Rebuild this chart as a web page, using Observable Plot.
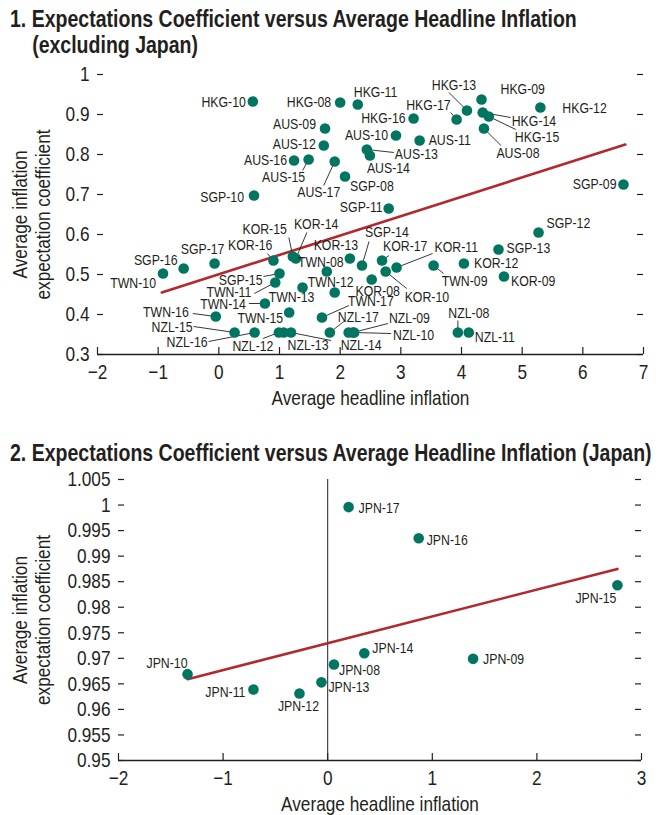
<!DOCTYPE html>
<html><head><meta charset="utf-8">
<script src="https://cdn.jsdelivr.net/npm/d3@7"></script>
<script src="https://cdn.jsdelivr.net/npm/@observablehq/plot@0.6"></script>
<style>
body{margin:0;background:#fff;}
#wrap{position:relative;width:661px;height:815px;overflow:hidden;font-family:"Liberation Sans Narrow","Arial Narrow","Liberation Sans",Arial,sans-serif;color:#231f20;}
.title{position:absolute;left:10px;font-weight:bold;font-size:23.8px;line-height:26px;white-space:nowrap;transform:scaleX(0.82);transform-origin:0 0;}
.panel{position:absolute;left:0;}
.panel svg{overflow:visible;}
</style></head><body>
<div id="wrap">
 <div class="title" style="top:6px">1. Expectations Coefficient versus Average Headline Inflation<br><span style="padding-left:27px">(excluding Japan)</span></div>
 <div class="panel" id="p1" style="top:60px"></div>
 <div class="title" style="top:440px">2. Expectations Coefficient versus Average Headline Inflation (Japan)</div>
 <div class="panel" id="p2" style="top:465px"></div>
</div>
<script>
// ---------- Panel 1 data (excluding Japan) ----------
const names1 = ["HKG-08","HKG-09","HKG-10","HKG-11","HKG-12","HKG-13","HKG-14","HKG-15","HKG-16","HKG-17",
  "AUS-08","AUS-09","AUS-10","AUS-11","AUS-12","AUS-13","AUS-14","AUS-15","AUS-16","AUS-17",
  "SGP-08","SGP-09","SGP-10","SGP-11","SGP-12","SGP-13","SGP-14","SGP-15","SGP-16","SGP-17",
  "KOR-08","KOR-09","KOR-10","KOR-11","KOR-12","KOR-13","KOR-14","KOR-15","KOR-16","KOR-17",
  "TWN-08","TWN-09","TWN-10","TWN-11","TWN-12","TWN-13","TWN-14","TWN-15","TWN-16","TWN-17",
  "NZL-08","NZL-09","NZL-10","NZL-11","NZL-12","NZL-13","NZL-14","NZL-15","NZL-16","NZL-17",""];
const inflation1 = [2.00,4.33,0.56,2.29,5.30,4.09,4.35,4.45,3.21,3.92,
  4.37,1.75,2.92,3.31,1.73,2.44,2.49,1.48,1.24,1.91,
  2.08,6.67,0.58,2.80,5.27,4.61,2.36,1.00,-0.58,-0.07,
  2.52,4.70,2.75,2.93,4.04,2.16,1.27,1.22,0.90,2.69,
  1.78,3.54,-0.92,0.93,1.91,1.38,0.76,1.16,-0.05,1.70,
  3.94,2.21,2.23,4.12,0.99,1.19,2.14,0.26,0.59,1.83,1.07];
const coef1 = [0.930,0.9375,0.9325,0.925,0.9175,0.910,0.905,0.895,0.890,0.8875,
  0.865,0.865,0.8475,0.835,0.8225,0.8125,0.7975,0.7875,0.785,0.7825,
  0.745,0.725,0.6975,0.665,0.605,0.5625,0.5225,0.5025,0.515,0.5275,
  0.4875,0.495,0.5075,0.5175,0.5275,0.540,0.540,0.545,0.535,0.535,
  0.5075,0.5225,0.5025,0.480,0.455,0.4675,0.4275,0.405,0.395,0.3925,
  0.355,0.355,0.355,0.355,0.355,0.355,0.355,0.355,0.355,0.355,0.355];
const fitX1 = [-0.94, 6.70];
const fitY1 = [0.455, 0.825];
const xTicks1 = [-2,-1,0,1,2,3,4,5,6,7];
const xTickLabels1 = ["\u22122","\u22121","0","1","2","3","4","5","6","7"];
const yTicks1 = [0.3,0.4,0.5,0.6,0.7,0.8,0.9,1];
const yTickLabels1 = ["0.3","0.4","0.5","0.6","0.7","0.8","0.9","1"];

// ---------- Panel 2 data (Japan) ----------
const names2 = ["JPN-08","JPN-09","JPN-10","JPN-11","JPN-12","JPN-13","JPN-14","JPN-15","JPN-16","JPN-17"];
const inflation2 = [0.06,1.39,-1.34,-0.71,-0.27,-0.06,0.35,2.77,0.87,0.20];
const coef2 = [0.9688,0.9699,0.9669,0.9639,0.9631,0.9653,0.9710,0.9843,0.9935,0.9996];
const fitX2 = [-1.34, 2.77];
const fitY2 = [0.9659, 0.9875];
const xTicks2 = [-2,-1,0,1,2,3];
const xTickLabels2 = ["\u22122","\u22121","0","1","2","3"];
const yTicks2 = [0.95,0.955,0.96,0.965,0.97,0.975,0.98,0.985,0.99,0.995,1,1.005];
const yTickLabels2 = ["0.95","0.955","0.96","0.965","0.97","0.975","0.98","0.985","0.99","0.995","1","1.005"];

// ---------- Label layout (pixel offsets from the dot) ----------
const layout1 = {
 "HKG-08":[-9,0,"end"],"HKG-09":[19,-10,"start"],"HKG-10":[-7,1,"end"],"HKG-11":[-4,-12,"start"],
 "HKG-12":[22,1,"start"],"HKG-13":[-13,-25,"middle"],"HKG-14":[29,9,"start"],"HKG-15":[26,21,"start"],
 "HKG-16":[-8,0,"end"],"HKG-17":[-6,-14,"end"],
 "AUS-08":[34,25,"middle"],"AUS-09":[-9,-4,"end"],"AUS-10":[-8,0,"end"],"AUS-11":[9,0,"start"],
 "AUS-12":[-8,-1,"end"],"AUS-13":[28,5,"start"],"AUS-14":[-3,13,"start"],"AUS-15":[-25,18,"middle"],
 "AUS-16":[-7,0,"end"],"AUS-17":[-16,31,"middle"],
 "SGP-08":[5,10,"start"],"SGP-09":[-7,0,"end"],"SGP-10":[-10,2,"end"],"SGP-11":[-6,-1,"end"],
 "SGP-12":[8,-9,"start"],"SGP-13":[8,-1,"start"],"SGP-14":[3,-33,"start"],"SGP-15":[-17,7,"end"],
 "SGP-16":[-6,-8,"end"],"SGP-17":[-12,-14,"middle"],
 "KOR-08":[6,12,"middle"],"KOR-09":[7,5,"start"],"KOR-10":[19,26,"start"],"KOR-11":[38,-20,"start"],
 "KOR-12":[10,0,"start"],"KOR-13":[-14,-13,"middle"],"KOR-14":[-2,-34,"start"],"KOR-15":[-6,-27,"end"],
 "KOR-16":[-1,-15,"end"],"KOR-17":[1,-14,"start"],
 "TWN-08":[-6,-9,"middle"],"TWN-09":[31,16,"middle"],"TWN-10":[-7,10,"end"],"TWN-11":[-24,10,"end"],
 "TWN-12":[-4,-10,"middle"],"TWN-13":[-11,10,"middle"],"TWN-14":[-19,1,"end"],"TWN-15":[-6,6,"end"],
 "TWN-16":[-27,-4,"end"],"TWN-17":[26,-16,"start"],
 "NZL-08":[11,-19,"middle"],"NZL-09":[36,-14,"start"],"NZL-10":[39,3,"start"],"NZL-11":[6,5,"start"],
 "NZL-12":[-26,14,"middle"],"NZL-13":[17,13,"middle"],"NZL-14":[-8,13,"start"],"NZL-15":[-42,-5,"end"],
 "NZL-16":[-47,10,"end"],"NZL-17":[8,-15,"start"]
};
const leaders1 = {
 "HKG-13":[-18,-18],"HKG-14":[28,5],"HKG-15":[27,13],"HKG-17":[-6,-7],"AUS-08":[17,17],
 "AUS-13":[27,3],"AUS-15":[-6,11],"AUS-17":[-11,24],"SGP-14":[7,-24],"SGP-15":[-16,3],
 "KOR-10":[21,17],"KOR-11":[36,-14],"KOR-14":[11,-26],"KOR-15":[-4,-19],"KOR-16":[-6,-7],"KOR-17":[7,-5],
 "TWN-09":[10,8],"TWN-11":[-21,11],"TWN-14":[-16,0],"TWN-16":[-23,-3],"TWN-17":[27,-12],
 "NZL-08":[0,-12],"NZL-09":[35,-9],"NZL-10":[37,1],"NZL-12":[-16,6],"NZL-13":[40,8],
 "NZL-15":[-41,-6],"NZL-16":[-46,9],"NZL-17":[14,-11]
};
const layout2 = {
 "JPN-08":[5,6,"start"],"JPN-09":[10,0,"start"],"JPN-10":[0,-11,"end"],"JPN-11":[-8,3,"end"],
 "JPN-12":[-1,13,"middle"],"JPN-13":[7,5,"start"],"JPN-14":[8,-5,"start"],"JPN-15":[-1,13,"end"],
 "JPN-16":[8,2,"start"],"JPN-17":[10,1,"start"]
};
const leaders2 = {};

const FONT = '"Liberation Sans Narrow","Arial Narrow","Liberation Sans",Arial,sans-serif';
const INK = "#231f20", TEAL = "#00755f", RED = "#b3282d";
const CONDENSE = 0.82;

function panel(o) {
  const width = 661;
  const [mt, mr, mb, ml] = o.margins;
  const kx = (o.xDomain[1]-o.xDomain[0])/(width-ml-mr);
  const ky = (o.yDomain[1]-o.yDomain[0])/(o.height-mt-mb);
  const ox = px => px*kx, oy = py => -py*ky;
  const pts = o.names.map((n,i)=>({name:n, x:o.xs[i], y:o.ys[i]}));
  const labeled = pts.filter(p=>p.name && o.layout[p.name]);
  const lab = a => labeled.filter(p=>o.layout[p.name][2]===a)
      .map(p=>({name:p.name, x:p.x+ox(o.layout[p.name][0]), y:p.y+oy(o.layout[p.name][1])}));
  const leads = labeled.filter(p=>o.leaders[p.name])
      .map(p=>({x1:p.x, y1:p.y, x2:p.x+ox(o.leaders[p.name][0]), y2:p.y+oy(o.leaders[p.name][1])}));
  const fit = o.fitX.map((x,i)=>({x, y:o.fitY[i]}));
  const xt = o.xTicks.map((v,i)=>({v, t:o.xLabels[i]}));
  const yt = o.yTicks.map((v,i)=>({v, t:o.yLabels[i]}));
  const y0 = o.yDomain[0], x0 = o.xDomain[0], x1 = o.xDomain[1];
  const ymid = (o.yDomain[0]+o.yDomain[1])/2;
  const xmid = (o.xDomain[0]+o.xDomain[1])/2;
  const marks = [
    Plot.ruleY([y0], {stroke: INK, strokeWidth: 1.4}),
    Plot.ruleX(o.xTicks, {y1: y0, y2: y0+ky*7, stroke: INK, strokeWidth: 1.2}),
    Plot.ruleY(o.yTicks, {x1: x0, x2: x0+kx*6, stroke: INK, strokeWidth: 1.2}),
    Plot.ruleY(o.yTicks, {x1: x1-kx*6, x2: x1, stroke: INK, strokeWidth: 1.2}),
    Plot.text(xt, {x: "v", y: y0, dy: 18, text: "t", fontSize: 21}),
    Plot.text(yt, {x: x0, y: "v", dx: -8, text: "t", textAnchor: "end", fontSize: 21}),
    Plot.text(["Average inflation"], {x: x0-kx*(ml-20), y: ymid, rotate: -90, fontSize: 21}),
    Plot.text(["expectation coefficient"], {x: x0-kx*(ml-43), y: ymid, rotate: -90, fontSize: 21}),
    Plot.text(["Average headline inflation"], {x: xmid, y: y0, dy: 44, fontSize: 21}),
  ];
  if (o.zeroLine) marks.push(Plot.ruleX([0], {stroke: INK, strokeWidth: 1}));
  marks.push(
    Plot.line(fit, {x: "x", y: "y", stroke: RED, strokeWidth: 2.6}),
    Plot.link(leads, {x1: "x1", y1: "y1", x2: "x2", y2: "y2", stroke: INK, strokeWidth: 0.9}),
    Plot.dot(pts, {x: "x", y: "y", r: 5.3, fill: TEAL, stroke: "none"}),
    Plot.text(lab("start"), {x: "x", y: "y", text: "name", textAnchor: "start", fontSize: o.labelSize}),
    Plot.text(lab("end"), {x: "x", y: "y", text: "name", textAnchor: "end", fontSize: o.labelSize}),
    Plot.text(lab("middle"), {x: "x", y: "y", text: "name", textAnchor: "middle", fontSize: o.labelSize})
  );
  return Plot.plot({
    width, height: o.height,
    marginTop: mt, marginRight: mr, marginBottom: mb, marginLeft: ml,
    x: {domain: o.xDomain, axis: null},
    y: {domain: o.yDomain, axis: null},
    style: {fontFamily: FONT, color: INK, background: "transparent", overflow: "visible"},
    marks
  });
}

// emulate a narrow face: compress each text horizontally
function condense(svg) {
  svg.querySelectorAll("text").forEach(t => {
    const L = t.getComputedTextLength();
    if (L > 0) {
      t.setAttribute("textLength", (L*CONDENSE).toFixed(2));
      t.setAttribute("lengthAdjust", "spacingAndGlyphs");
    }
  });
}

const s1 = panel({
  names: names1, xs: inflation1, ys: coef1, fitX: fitX1, fitY: fitY1,
  xTicks: xTicks1, xLabels: xTickLabels1, yTicks: yTicks1, yLabels: yTickLabels1,
  xDomain: [-2, 7], yDomain: [0.3, 1], margins: [14, 18, 56, 97], height: 350,
  layout: layout1, leaders: leaders1, labelSize: 15, zeroLine: false
});
document.getElementById("p1").appendChild(s1);
const s2 = panel({
  names: names2, xs: inflation2, ys: coef2, fitX: fitX2, fitY: fitY2,
  xTicks: xTicks2, xLabels: xTickLabels2, yTicks: yTicks2, yLabels: yTickLabels2,
  xDomain: [-2, 3], yDomain: [0.95, 1.005], margins: [14, 20, 55, 118], height: 350,
  layout: layout2, leaders: leaders2, labelSize: 15, zeroLine: true
});
document.getElementById("p2").appendChild(s2);
condense(s1); condense(s2);
</script>
</body></html>
